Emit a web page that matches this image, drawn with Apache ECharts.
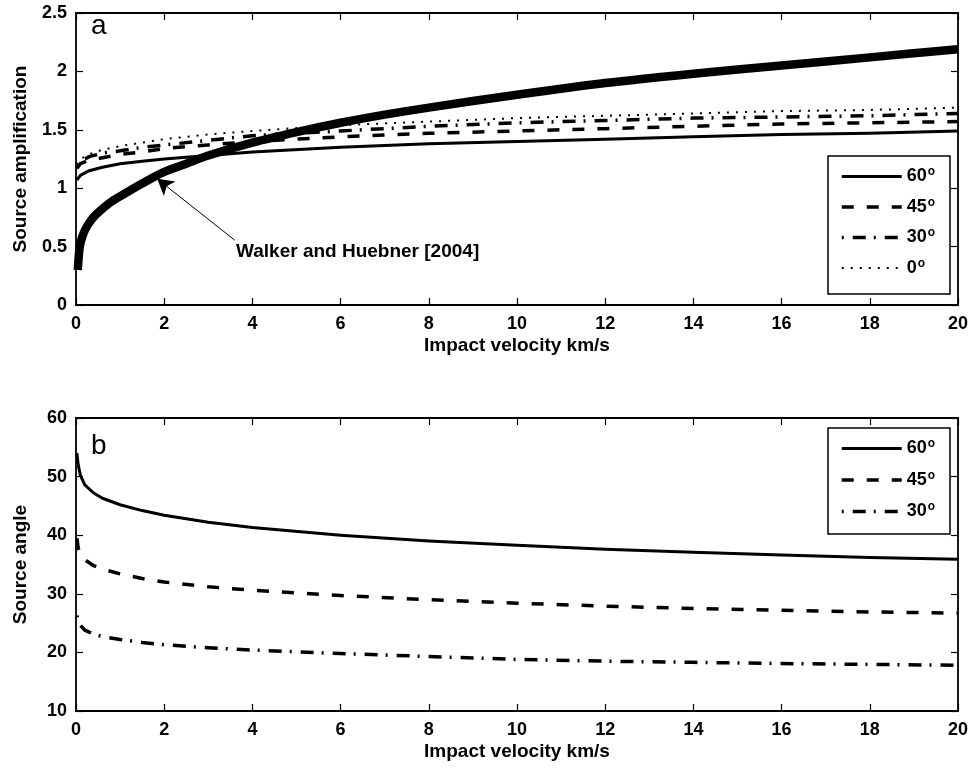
<!DOCTYPE html>
<html><head><meta charset="utf-8">
<script src="https://cdn.jsdelivr.net/npm/echarts@6/dist/echarts.min.js"></script>
<style>html,body{margin:0;padding:0;background:#fff}#c{width:974px;height:770px}</style>
</head><body><div id="c"></div><script>
// ---- Panel a: source amplification ----
const xA = [0.02, 0.1, 0.3, 0.6, 1, 1.5, 2, 3, 4, 6, 8, 10, 12, 14, 16, 18, 20];
const amp60 = [1.07, 1.11, 1.15, 1.18, 1.21, 1.23, 1.25, 1.28, 1.31, 1.35, 1.38, 1.40, 1.42, 1.44, 1.46, 1.47, 1.49];
const amp45 = [1.17, 1.21, 1.24, 1.26, 1.29, 1.31, 1.34, 1.37, 1.40, 1.44, 1.47, 1.49, 1.51, 1.53, 1.55, 1.56, 1.57];
const amp30 = [1.19, 1.23, 1.27, 1.30, 1.32, 1.35, 1.37, 1.41, 1.45, 1.49, 1.53, 1.56, 1.58, 1.60, 1.61, 1.62, 1.64];
const amp0  = [1.20, 1.25, 1.29, 1.33, 1.36, 1.39, 1.42, 1.46, 1.49, 1.54, 1.57, 1.60, 1.62, 1.64, 1.66, 1.67, 1.69];
const xW = [0.04, 0.07, 0.1, 0.2, 0.35, 0.5, 0.75, 1, 1.5, 2, 2.5, 3, 4, 5, 6, 7, 8, 10, 12, 14, 16, 18, 20];
const walker = [0.30, 0.45, 0.53, 0.64, 0.73, 0.79, 0.87, 0.93, 1.04, 1.14, 1.21, 1.28, 1.39, 1.48, 1.56, 1.63, 1.69, 1.80, 1.90, 1.98, 2.05, 2.12, 2.19];
const arrowFrom = [3.6, 0.555];
const arrowTo = [1.84, 1.08];
const annotationText = 'Walker and Huebner [2004]';
// ---- Panel b: source angle ----
const xB = [0.02, 0.05, 0.1, 0.2, 0.4, 0.6, 1, 1.5, 2, 3, 4, 6, 8, 10, 12, 14, 16, 18, 20];
const ang60 = [54.0, 52.0, 50.2, 48.6, 47.2, 46.3, 45.2, 44.2, 43.4, 42.2, 41.3, 40.0, 39.0, 38.3, 37.6, 37.1, 36.6, 36.2, 35.9];
const ang45 = [39.5, 37.8, 36.8, 35.8, 34.8, 34.2, 33.4, 32.6, 32.0, 31.2, 30.6, 29.7, 29.0, 28.4, 27.9, 27.5, 27.2, 26.9, 26.7];
const ang30 = [26.3, 25.2, 24.6, 23.8, 23.1, 22.7, 22.2, 21.7, 21.3, 20.8, 20.4, 19.8, 19.3, 18.8, 18.5, 18.3, 18.1, 17.95, 17.8];
const legendA = ['60°', '45°', '30°', '0°'];
const legendB = ['60°', '45°', '30°'];
const xTitle = 'Impact velocity km/s';
const yTitleA = 'Source amplification';
const yTitleB = 'Source angle';

const FONT = '"Liberation Sans", Arial, sans-serif';
const pairs = (xs, ys) => xs.map((x, i) => [x, ys[i]]);
const styles = {
  '60°': { type: 'solid', width: 3, offset: 0 },
  '45°': { type: [12, 13], width: 3.5, offset: 0 },
  '30°': { type: [13, 8, 2, 9], width: 3.5, offset: 21 },
  '0°':  { type: [2, 7], width: 2, offset: 0 }
};

function xAx(grid, pos) {
  const main = pos === 'bottom';
  return {
    gridIndex: grid, type: 'value', position: pos, min: 0, max: 20, interval: 2,
    axisLine: { onZero: false, lineStyle: { color: '#000', width: 1.8 } },
    axisTick: { inside: true, length: 7, lineStyle: { color: '#000', width: 1.2 } },
    axisLabel: { show: main, color: '#000', fontFamily: FONT, fontWeight: 'bold', fontSize: 18, margin: 10 },
    splitLine: { show: false },
    name: main ? xTitle : '', nameLocation: 'middle', nameGap: 31,
    nameTextStyle: { color: '#000', fontFamily: FONT, fontWeight: 'bold', fontSize: 19 }
  };
}
function yAx(grid, pos, min, max, interval, title) {
  const main = pos === 'left';
  return {
    gridIndex: grid, type: 'value', position: pos, min: min, max: max, interval: interval,
    axisLine: { onZero: false, lineStyle: { color: '#000', width: 1.8 } },
    axisTick: { inside: true, length: 7, lineStyle: { color: '#000', width: 1.2 } },
    axisLabel: { show: main, color: '#000', fontFamily: FONT, fontWeight: 'bold', fontSize: 18, margin: 9 },
    splitLine: { show: false },
    name: main ? title : '', nameLocation: 'middle', nameGap: 46,
    nameTextStyle: { color: '#000', fontFamily: FONT, fontWeight: 'bold', fontSize: 19 }
  };
}
function lineSeries(name, data, xi, yi) {
  return {
    name: name, type: 'line', xAxisIndex: xi, yAxisIndex: yi, data: data,
    showSymbol: false, symbol: 'none', smooth: false, silent: true,
    itemStyle: { color: '#000' },
    lineStyle: { color: '#000', width: styles[name].width, type: styles[name].type, dashOffset: styles[name].offset, join: 'round' }
  };
}
const legendFmt = name => '{n|' + name.replace('°', '') + '}{s|o}';
const legendText = {
  color: '#000', fontFamily: FONT, fontWeight: 'bold', fontSize: 18,
  rich: {
    n: { fontFamily: FONT, fontWeight: 'bold', fontSize: 18, color: '#000' },
    s: { fontFamily: FONT, fontWeight: 'bold', fontSize: 12, color: '#000', padding: [0, 0, 9, 1] }
  }
};
const legendBase = {
  orient: 'vertical', left: 840, padding: 0, itemWidth: 60, itemHeight: 14,
  formatter: legendFmt, textStyle: legendText, selectedMode: false, z: 10,
  itemStyle: { opacity: 0, borderWidth: 0 },
  lineStyle: { width: 'inherit', color: '#000' }
};

const chart = echarts.init(document.getElementById('c'), null, { renderer: 'canvas' });
chart.setOption({
  animation: false,
  backgroundColor: '#fff',
  grid: [
    { left: 76, right: 16, top: 13, height: 292 },
    { left: 76, right: 16, top: 418, height: 293 }
  ],
  xAxis: [xAx(0, 'bottom'), xAx(0, 'top'), xAx(1, 'bottom'), xAx(1, 'top')],
  yAxis: [
    yAx(0, 'left', 0, 2.5, 0.5, yTitleA), yAx(0, 'right', 0, 2.5, 0.5, ''),
    yAx(1, 'left', 10, 60, 10, yTitleB), yAx(1, 'right', 10, 60, 10, '')
  ],
  legend: [
    Object.assign({}, legendBase, { data: legendA, top: 166, itemGap: 11 }),
    Object.assign({}, legendBase, { data: legendB, top: 438, itemGap: 12 })
  ],
  graphic: [
    { type: 'rect', z: 5, shape: { x: 828, y: 156, width: 122, height: 138 }, style: { fill: '#fff', stroke: '#000', lineWidth: 1.5 } },
    { type: 'rect', z: 5, shape: { x: 828, y: 428, width: 122, height: 106 }, style: { fill: '#fff', stroke: '#000', lineWidth: 1.5 } },
    { type: 'text', z: 6, left: 91, top: 12, style: { text: 'a', font: 'normal 28px "Liberation Sans", Arial, sans-serif', fill: '#000' } },
    { type: 'text', z: 6, left: 91, top: 432, style: { text: 'b', font: 'normal 28px "Liberation Sans", Arial, sans-serif', fill: '#000' } },
    { type: 'text', z: 6, left: 236, top: 242, style: { text: annotationText, font: 'bold 19px "Liberation Sans", Arial, sans-serif', fill: '#000' } }
  ],
  series: [
    lineSeries('60°', pairs(xA, amp60), 0, 0),
    lineSeries('45°', pairs(xA, amp45), 0, 0),
    lineSeries('30°', pairs(xA, amp30), 0, 0),
    lineSeries('0°', pairs(xA, amp0), 0, 0),
    {
      name: annotationText, type: 'line', xAxisIndex: 0, yAxisIndex: 0, data: pairs(xW, walker),
      showSymbol: false, symbol: 'none', smooth: 0.3, silent: true,
      itemStyle: { color: '#000' },
      lineStyle: { color: '#000', width: 8.5, cap: 'butt', join: 'round' },
      markLine: {
        silent: true, animation: false, symbol: ['none', 'arrow'], symbolSize: [14, 16],
        label: { show: false },
        lineStyle: { color: '#000', width: 1, type: 'solid' },
        data: [[{ coord: arrowFrom }, { coord: arrowTo }]]
      }
    },
    lineSeries('60°', pairs(xB, ang60), 2, 2),
    lineSeries('45°', pairs(xB, ang45), 2, 2),
    lineSeries('30°', pairs(xB, ang30), 2, 2)
  ]
});
</script></body></html>
